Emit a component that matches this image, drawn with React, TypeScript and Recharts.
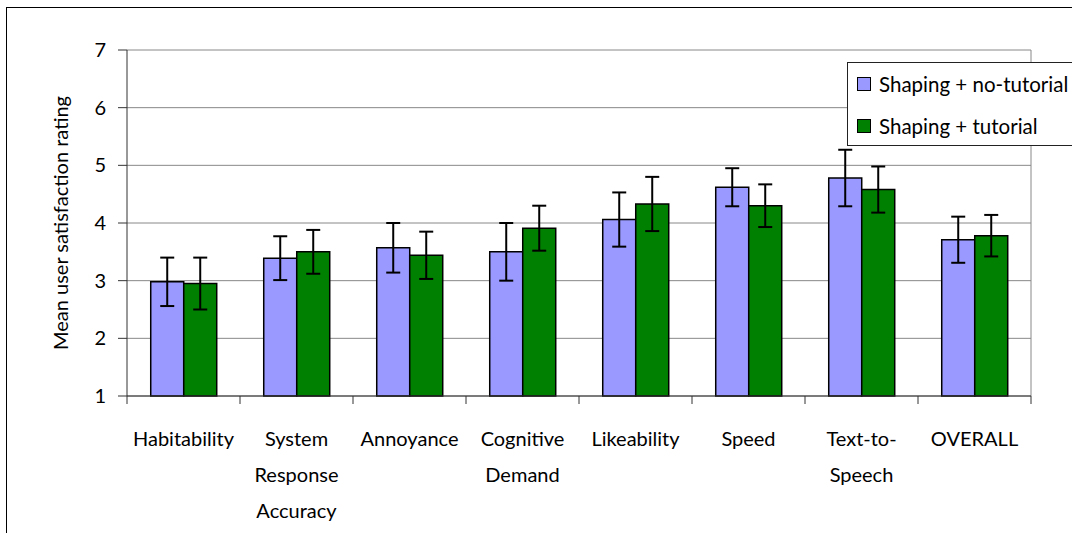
import React from 'react';
import { BarChart, Bar, XAxis, YAxis, CartesianGrid, ErrorBar, Legend } from 'recharts';

const categories = [
  'Habitability',
  'System\nResponse\nAccuracy',
  'Annoyance',
  'Cognitive\nDemand',
  'Likeability',
  'Speed',
  'Text-to-\nSpeech',
  'OVERALL',
];
const seriesNames = ['Shaping + no-tutorial', 'Shaping + tutorial'];
const noTutorial = [2.98, 3.39, 3.57, 3.5, 4.06, 4.62, 4.78, 3.71];
const noTutorialErr = [0.42, 0.38, 0.43, 0.5, 0.47, 0.33, 0.49, 0.4];
const tutorial = [2.95, 3.5, 3.44, 3.91, 4.33, 4.3, 4.58, 3.78];
const tutorialErr = [0.45, 0.38, 0.41, 0.39, 0.47, 0.37, 0.4, 0.36];
const yTicks = [1, 2, 3, 4, 5, 6, 7];
const yLabel = 'Mean user satisfaction rating';

const data = categories.map((c, i) => ({
  name: c,
  a: noTutorial[i],
  aErr: noTutorialErr[i],
  b: tutorial[i],
  bErr: tutorialErr[i],
}));

const FONT = 'Lato, "Open Sans", sans-serif';
const AXIS = '#333333';
const FS = 20;

const CategoryTick = (props: any) => {
  const { x, y, payload, index } = props;
  const lines = String(payload.value).split('\n');
  const off = payload.offset ?? 0;
  const last = index === categories.length - 1;
  return (
    <g>
      <line x1={x - off} x2={x - off} y1={y} y2={y + 8} stroke={AXIS} strokeWidth={1} />
      {last && <line x1={x + off} x2={x + off} y1={y} y2={y + 8} stroke={AXIS} strokeWidth={1} />}
      <text x={x} y={y} textAnchor="middle" fontFamily={FONT} fontSize={FS} fill="#000">
        {lines.map((l, i) => (
          <tspan key={i} x={x} dy={i === 0 ? 50 : 36}>
            {l}
          </tspan>
        ))}
      </text>
    </g>
  );
};

const renderLegend = (props: any) => {
  const { payload } = props;
  return (
    <div
      style={{
        width: 240,
        height: 84,
        border: '1px solid #222',
        background: '#fff',
        boxSizing: 'border-box',
        paddingTop: 0,
        fontFamily: FONT,
        fontSize: 20.5,
      }}
    >
      {(payload || []).map((p: any, i: number) => (
        <div key={i} style={{ display: 'flex', alignItems: 'center', height: 42 }}>
          <div
            style={{
              width: 14,
              height: 14,
              marginLeft: 9,
              marginRight: 8,
              background: p.color,
              border: '1px solid #000',
              boxSizing: 'border-box',
            }}
          />
          <span style={{ color: '#000', whiteSpace: 'nowrap' }}>{p.value}</span>
        </div>
      ))}
    </div>
  );
};

const YTitle = (props: any) => {
  const { viewBox } = props;
  const cx = viewBox.x + 60;
  const cy = viewBox.y + viewBox.height / 2;
  return (
    <text
      x={cx}
      y={cy}
      transform={`rotate(-90, ${cx}, ${cy})`}
      textAnchor="middle"
      dominantBaseline="central"
      fontFamily={FONT}
      fontSize={FS}
      fill="#000"
    >
      {yLabel}
    </text>
  );
};

export default function App() {
  return (
    <div style={{ position: 'absolute', left: 0, top: 0, width: 1072, height: 533, overflow: 'hidden', background: '#fff' }}>
      <div
        style={{
          position: 'absolute',
          left: 6,
          top: 7,
          width: 1100,
          height: 600,
          borderLeft: '1px solid #000',
          borderTop: '1px solid #000',
        }}
      />
      <div style={{ position: 'absolute', left: 0, top: 0 }}>
        <BarChart
          width={1072}
          height={533}
          data={data}
          margin={{ top: 50, right: 41, left: 0, bottom: 0 }}
          barCategoryGap="21%"
          barGap={0}
        >
          <CartesianGrid
            stroke="#888888"
            strokeWidth={1}
            vertical={true}
            verticalCoordinatesGenerator={(p: any) => [p.offset.left + p.offset.width]}
          />
          <XAxis
            dataKey="name"
            type="category"
            height={137}
            interval={0}
            tickLine={false}
            tickSize={0}
            tickMargin={0}
            axisLine={{ stroke: AXIS, strokeWidth: 1 }}
            tick={<CategoryTick />}
          />
          <YAxis
            width={127}
            domain={[1, 7]}
            ticks={yTicks}
            interval={0}
            tickSize={9}
            tickMargin={12}
            axisLine={{ stroke: AXIS, strokeWidth: 1 }}
            tickLine={{ stroke: AXIS, strokeWidth: 1 }}
            tick={{ fontFamily: FONT, fontSize: FS, fill: '#000' }}
            label={<YTitle />}
          />
          <Legend
            layout="vertical"
            verticalAlign="middle"
            align="center"
            content={renderLegend}
            wrapperStyle={{ left: 847, top: 62, width: 240, height: 84 }}
          />
          <Bar dataKey="a" name={seriesNames[0]} fill="#9999FF" stroke="#000" strokeWidth={1.5} isAnimationActive={false}>
            <ErrorBar dataKey="aErr" direction="y" width={7} stroke="#000" strokeWidth={2} isAnimationActive={false} />
          </Bar>
          <Bar dataKey="b" name={seriesNames[1]} fill="#008000" stroke="#000" strokeWidth={1.5} isAnimationActive={false}>
            <ErrorBar dataKey="bErr" direction="y" width={7} stroke="#000" strokeWidth={2} isAnimationActive={false} />
          </Bar>
        </BarChart>
      </div>
    </div>
  );
}
